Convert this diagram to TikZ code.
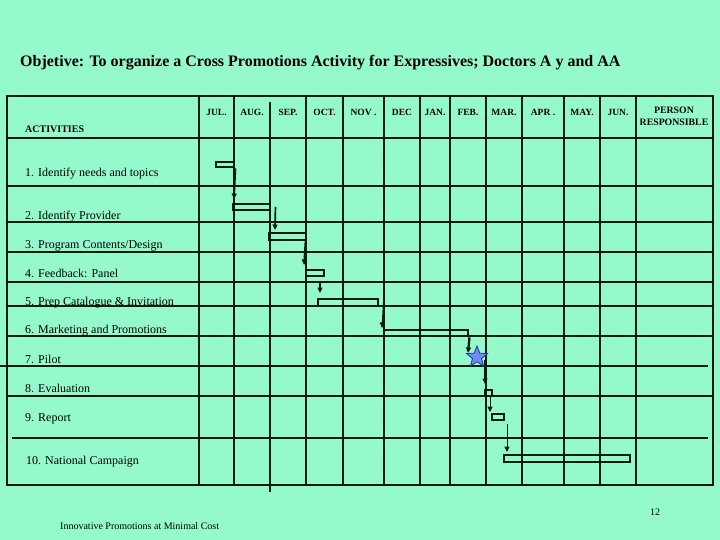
\documentclass[tikz,border=0pt]{standalone}
\usepackage{fontspec}
\setmainfont{Liberation Serif}
\usetikzlibrary{shapes.geometric,arrows.meta}
\definecolor{bg}{RGB}{148,250,204}
\definecolor{ink}{RGB}{12,28,12}
\definecolor{starfill}{RGB}{110,140,240}
\definecolor{starline}{RGB}{40,50,150}
\tikzset{
  grid/.style={draw=ink, line width=1.2pt},
  border/.style={draw=ink, line width=2.8pt},
  bar/.style={draw=ink, line width=2.9pt, rectangle, inner sep=0pt, fill=none},
  arr/.style={draw=ink, line width=1.7pt, -{Triangle[length=5.5pt,width=5pt]}},
  thinarr/.style={draw=ink, line width=1pt, -{Triangle[length=5.5pt,width=5pt]}},
  thickarr/.style={draw=ink, line width=2.3pt, -{Triangle[length=5.5pt,width=5pt]}},
  act/.style={anchor=base west, inner sep=0pt, font=\fontsize{12}{12}\selectfont},
  month/.style={anchor=base, inner sep=0pt, font=\fontsize{9.5}{9.5}\selectfont\bfseries},
  ttl/.style={anchor=base west, inner sep=0pt, font=\fontsize{16}{16}\selectfont\bfseries},
  foot/.style={anchor=base west, inner sep=0pt, font=\fontsize{10}{10}\selectfont}
}
\begin{document}
\begin{tikzpicture}[x=1pt,y=-1pt]
\path[use as bounding box, fill=bg] (0,0) rectangle (720,540);

% title
\node[ttl] (title) at (20,67) {Objetive: To organize a Cross Promotions Activity for Expressives; Doctors A y and AA};

% horizontal grid lines
\foreach \y in {138,186,222,252,282,306,336,396}
  \draw[grid] (7,\y) -- (713,\y);
\draw[grid] (0,366) -- (708,366);
\draw[grid] (12,438) -- (708,438);
% vertical grid lines
\foreach \x in {199,234,306,343,384,420,450,486,522,564,600,636}
  \draw[grid] (\x,96) -- (\x,485);
\draw[grid] (270,102) -- (270,492);
% outer border
\draw[border] (7,96) rectangle (713,485);

% header
\node[anchor=base west, inner sep=0pt, font=\fontsize{10}{10}\selectfont\bfseries] (hact) at (25,133) {ACTIVITIES};
\node[month] (m1) at (216.5,116) {JUL.};
\node[month] (m2) at (252,116) {AUG.};
\node[month] (m3) at (288,116) {SEP.};
\node[month] (m4) at (324.5,116) {OCT.};
\node[month] (m5) at (363.5,116) {NOV .};
\node[month] (m6) at (402,116) {DEC};
\node[month] (m7) at (435,116) {JAN.};
\node[month] (m8) at (468,116) {FEB.};
\node[month] (m9) at (504,116) {MAR.};
\node[month] (m10) at (543,116) {APR .};
\node[month] (m11) at (582,116) {MAY.};
\node[month] (m12) at (618,116) {JUN.};
\node[month, font=\fontsize{9.8}{9.8}\selectfont\bfseries] (p1) at (674,114) {PERSON};
\node[month, font=\fontsize{9.8}{9.8}\selectfont\bfseries] (p2) at (674,126) {RESPONSIBLE};

% activities
\node[act] (r1) at (25,177) {1. Identify needs and topics};
\node[act] (r2) at (25,219) {2. Identify Provider};
\node[act] (r3) at (25,248) {3. Program Contents/Design};
\node[act] (r4) at (25,277) {4. Feedback: Panel};
\node[act] (r5) at (25,305) {5. Prep Catalogue \& Invitation};
\node[act] (r6) at (25,333) {6. Marketing and Promotions};
\node[act] (r7) at (25,363) {7. Pilot};
\node[act] (r8) at (25,392) {8. Evaluation};
\node[act] (r9) at (25,421) {9. Report};
\node[act] (r10) at (26,464) {10. National Campaign};

% bars
\node[bar, minimum width=18pt, minimum height=5pt] (b1) at (225,164.5) {};
\node[bar, minimum width=37pt, minimum height=6pt] (b2) at (251.5,207) {};
\node[bar, minimum width=37pt, minimum height=7pt] (b3) at (287.5,236.5) {};
\node[bar, minimum width=18pt, minimum height=6pt] (b4) at (315,273) {};
\node[bar, minimum width=60pt, minimum height=7pt] (b5) at (348,302.5) {};
\node[bar, minimum width=84pt, minimum height=6pt] (b6) at (426,333) {};
\node[star, star points=5, star point ratio=2.3, minimum size=22pt, inner sep=0pt,
      fill=starfill, draw=starline, line width=0.8pt] (st) at (477,357) {};
\node[bar, minimum width=7pt, minimum height=6pt] (b8) at (488.5,393) {};
\node[bar, minimum width=12pt, minimum height=6pt] (b9) at (498,417) {};
\node[bar, minimum width=126pt, minimum height=7pt] (b10) at (567,458.5) {};

% arrow tips
\coordinate (t1) at (234,199);
\coordinate (t2) at (275,230);
\coordinate (t3) at (304,265);
\coordinate (t4) at (320,293);
\coordinate (t5) at (382,328);
\coordinate (t6) at (468,353);
\coordinate (t7) at (485,384);
\coordinate (t8) at (490,412);
\coordinate (t9) at (507,452);

% connectors
\draw[arr] (b1.south east) -- (t1);
\draw[arr] ([xshift=4pt]b2.east) -- (t2);
\draw[arr] ([xshift=-2pt]b3.south east) -- (t3);
\draw[arr] ([xshift=5pt,yshift=-5pt]b4.south) -- (t4);
\draw[thinarr] ([xshift=4pt]b5.east) -- (t5);
\draw[thickarr] (b6.south east) -- (t6);
\draw[thickarr] ([xshift=8pt,yshift=-3pt]st.center) -- (t7);
\draw[thinarr] ([xshift=1.5pt]b8.south) -- (t8);
\draw[thinarr] ([xshift=9pt,yshift=-3pt]b9.south) -- (t9);

% footer
\node[anchor=base, inner sep=0pt, font=\fontsize{10}{10}\selectfont] (pg) at (655,515) {12};
\node[foot] (ft) at (60,529) {Innovative Promotions at Minimal Cost};
\end{tikzpicture}
\end{document}
